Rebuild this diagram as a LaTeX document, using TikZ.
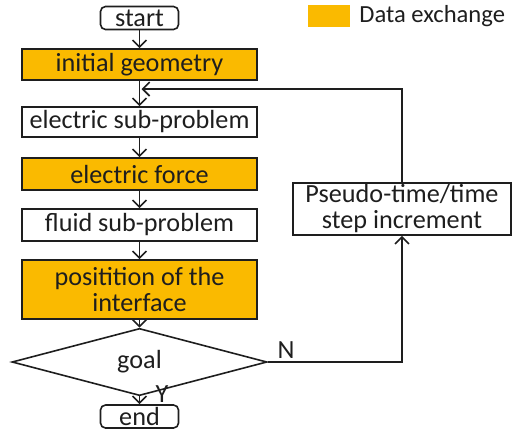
\documentclass[tikz,border=0pt]{standalone}
\usepackage{fontspec}
\setmainfont{Carlito}
\usetikzlibrary{shapes.geometric,arrows.meta,calc}
\definecolor{xchg}{RGB}{250,186,0}
\definecolor{ink}{RGB}{30,30,30}
\begin{document}
\begin{tikzpicture}[x=0.5pt,y=-0.5pt,
  every node/.style={font=\fontsize{13.1}{15}\selectfont, text=ink},
  box/.style={draw=ink, line width=0.8pt, inner sep=0pt, align=center, minimum width=117.5pt},
  xbox/.style={box, fill=xchg},
  term/.style={draw=ink, line width=0.8pt, inner sep=0pt, rounded corners=2.5pt, minimum width=39pt, minimum height=11.5pt},
  flow/.style={draw=ink, line width=0.8pt, -{Straight Barb[length=3.5pt,width=7pt,line width=0.8pt]}},
  link/.style={draw=ink, line width=0.8pt}]
\useasboundingbox (0,0) rectangle (512,429);

% main column
\node[term] (start) at (139.5,18) {start};
\node[xbox, minimum height=15.5pt] (init) at (139.5,64.5) {initial geometry};
\node[box, minimum height=15pt] (elec) at (139.5,122) {electric sub-problem};
\node[xbox, minimum height=16pt] (force) at (139.5,174) {electric force};
\node[box, minimum height=16pt] (fluid) at (139.5,225) {fluid sub-problem};
\node[xbox, minimum height=29.5pt] (iface) at (139.5,289.5) {positition of the\\[-2pt]interface};
\node[diamond, draw=ink, line width=0.8pt, inner sep=0pt, minimum width=127.5pt, minimum height=24pt] (goal) at (139.5,362) {goal};
\node[term] (end) at (139.5,416.5) {end};

% time-step box on the right
\node[box, minimum width=109pt, minimum height=26pt] (step) at (402,209) {Pseudo-time/time\\[-2pt]step increment};

% legend
\node[fill=xchg, minimum width=21pt, minimum height=11pt, inner sep=0pt] (key) at (329,16) {};
\node[anchor=west, inner sep=0pt, font=\fontsize{12.3}{14}\selectfont] (keytext) at (359,16) {Data exchange};

% connectors
\coordinate (merge) at (139.5,89);
\draw[flow] (start) -- (init);
\draw[flow] (init) -- (elec);
\draw[flow] (elec) -- (force);
\draw[flow] (force) -- (fluid);
\draw[flow] (fluid) -- (iface);
\draw[flow] (iface) -- (goal);
\draw[flow] (goal) -- (end);
\draw[flow] (goal.east) -| (step.south);
\draw[flow] (step.north) |- ($(merge)+(2,0)$);

% branch labels
\node (nlab) at (286,350) {N};
\node (ylab) at (162,394) {Y};
\end{tikzpicture}
\end{document}
